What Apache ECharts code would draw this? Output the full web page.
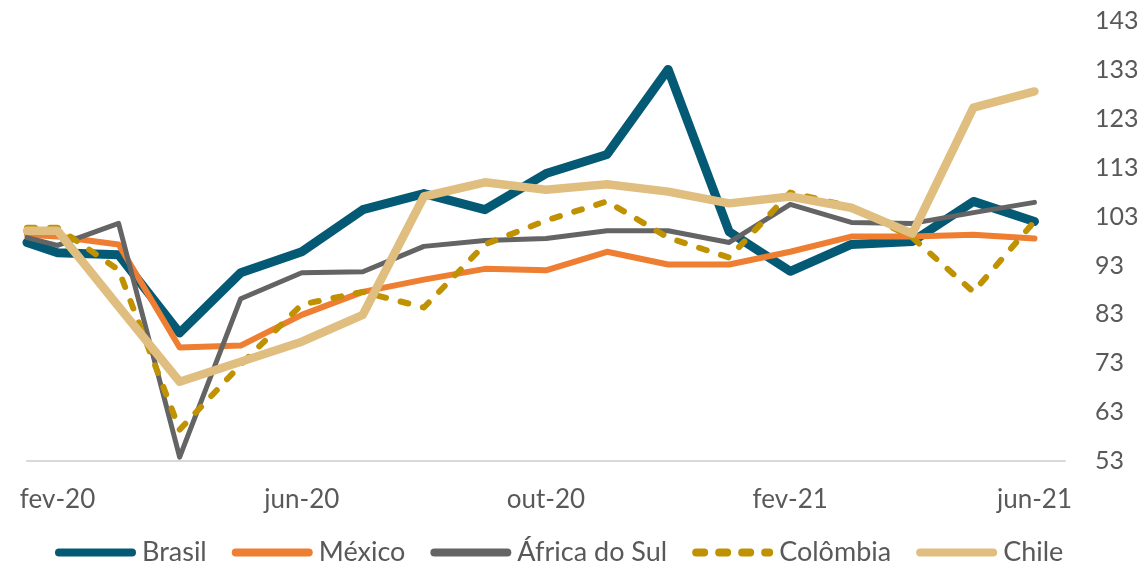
<!DOCTYPE html>
<html>
<head>
<meta charset="utf-8">
<script src="https://cdn.jsdelivr.net/npm/echarts@6/dist/echarts.min.js"></script>
<style>
  html, body { margin: 0; padding: 0; background: #fff; }
  #chart { width: 1142px; height: 564px; }
</style>
</head>
<body>
<div id="chart"></div>
<script>
const months = ["fev-20", "mar-20", "abr-20", "mai-20", "jun-20", "jul-20", "ago-20", "set-20", "out-20",
  "nov-20", "dez-20", "jan-21", "fev-21", "mar-21", "abr-21", "mai-21", "jun-21"];
const yTicks = [53, 143, 10]; // min, max, step

const brasil = [95.6, 95.2, 79.2, 91.5, 95.8, 104.4, 107.7, 104.4, 111.8, 115.7, 133.1, 99.9, 91.8, 97.3, 97.9, 106.1, 102.0];
const mexico = [98.9, 97.3, 76.2, 76.6, 82.9, 87.6, 90.1, 92.3, 92.0, 95.8, 93.2, 93.2, 95.8, 98.9, 98.9, 99.3, 98.5];
const africaSul = [97.1, 101.6, 53.8, 86.2, 91.5, 91.7, 96.9, 98.1, 98.5, 100.1, 100.1, 97.7, 105.5, 101.8, 101.6, 103.8, 105.9];
const colombia = [100.7, 92.1, 59.4, 72.7, 85.0, 87.6, 84.4, 97.3, 102.2, 106.1, 98.7, 94.6, 107.9, 105.0, 98.7, 87.6, 102.0];
const chile = [100.1, 84.6, 69.2, 73.3, 77.4, 82.9, 107.1, 110.0, 108.5, 109.6, 108.1, 105.7, 107.1, 104.8, 99.5, 125.3, 128.6];
// where each line enters at the left edge of the plot (brasil, mexico, africa, colombia, chile)
const leftEdge = [97.7, 99.3, 98.7, 100.7, 100.1];

const chart = echarts.init(document.getElementById("chart"));

const textColor = "#595959";
const font = "Lato";

// category i sits at x = i, left edge of plot is -0.5
const toPoints = (values, edge) => [[-0.5, edge]].concat(values.map((v, i) => [i, v]));

const lineSeries = (name, values, edge, color, width, type) => ({
  name: name,
  type: "line",
  xAxisIndex: 1,
  data: toPoints(values, edge),
  symbol: "none",
  lineStyle: {
    color: color,
    width: width,
    type: type || "solid",
    cap: "round",
    join: "round",
  },
  itemStyle: { color: color },
});

let option;
option = {
  animation: false,
  grid: {
    left: 27,
    right: 77,
    top: 21,
    bottom: 103,
    outerBoundsMode: "none",
  },
  legend: {
    left: 50,
    top: 534,
    itemWidth: 73,
    itemHeight: 14,
    itemGap: 25,
    lineStyle: { width: 8, cap: "round" },
    // hide the marker dot, keep only the line
    itemStyle: { opacity: 0, color: "rgba(0,0,0,0)", borderWidth: 0 },
    textStyle: { color: textColor, fontFamily: font, fontSize: 27, padding: [0, 0, 0, 5] },
    data: ["Brasil", "México", "África do Sul", "Colômbia", "Chile"],
  },
  xAxis: [
    {
      type: "category",
      data: months,
      boundaryGap: true,
      axisLine: { show: true, lineStyle: { color: "#d9d9d9", width: 2 } },
      axisTick: { show: false },
      axisLabel: {
        interval: 3,
        margin: 26,
        color: textColor,
        fontFamily: font,
        fontSize: 26,
      },
      splitLine: { show: false },
    },
    {
      type: "value",
      min: -0.5,
      max: months.length - 0.5,
      show: false,
    },
  ],
  yAxis: {
    type: "value",
    position: "right",
    min: yTicks[0],
    max: yTicks[1],
    interval: yTicks[2],
    axisLine: { show: false },
    axisTick: { show: false },
    splitLine: { show: false },
    axisLabel: {
      margin: 30,
      color: textColor,
      fontFamily: font,
      fontSize: 25,
    },
  },
  series: [
    lineSeries("Brasil", brasil, leftEdge[0], "#045a74", 9),
    lineSeries("México", mexico, leftEdge[1], "#ee7e32", 6),
    lineSeries("África do Sul", africaSul, leftEdge[2], "#646464", 5),
    lineSeries("Colômbia", colombia, leftEdge[3], "#c09100", 6, [8, 15]),
    lineSeries("Chile", chile, leftEdge[4], "#dfbe7f", 8.5),
  ],
};
option && chart.setOption(option);
</script>
</body>
</html>
